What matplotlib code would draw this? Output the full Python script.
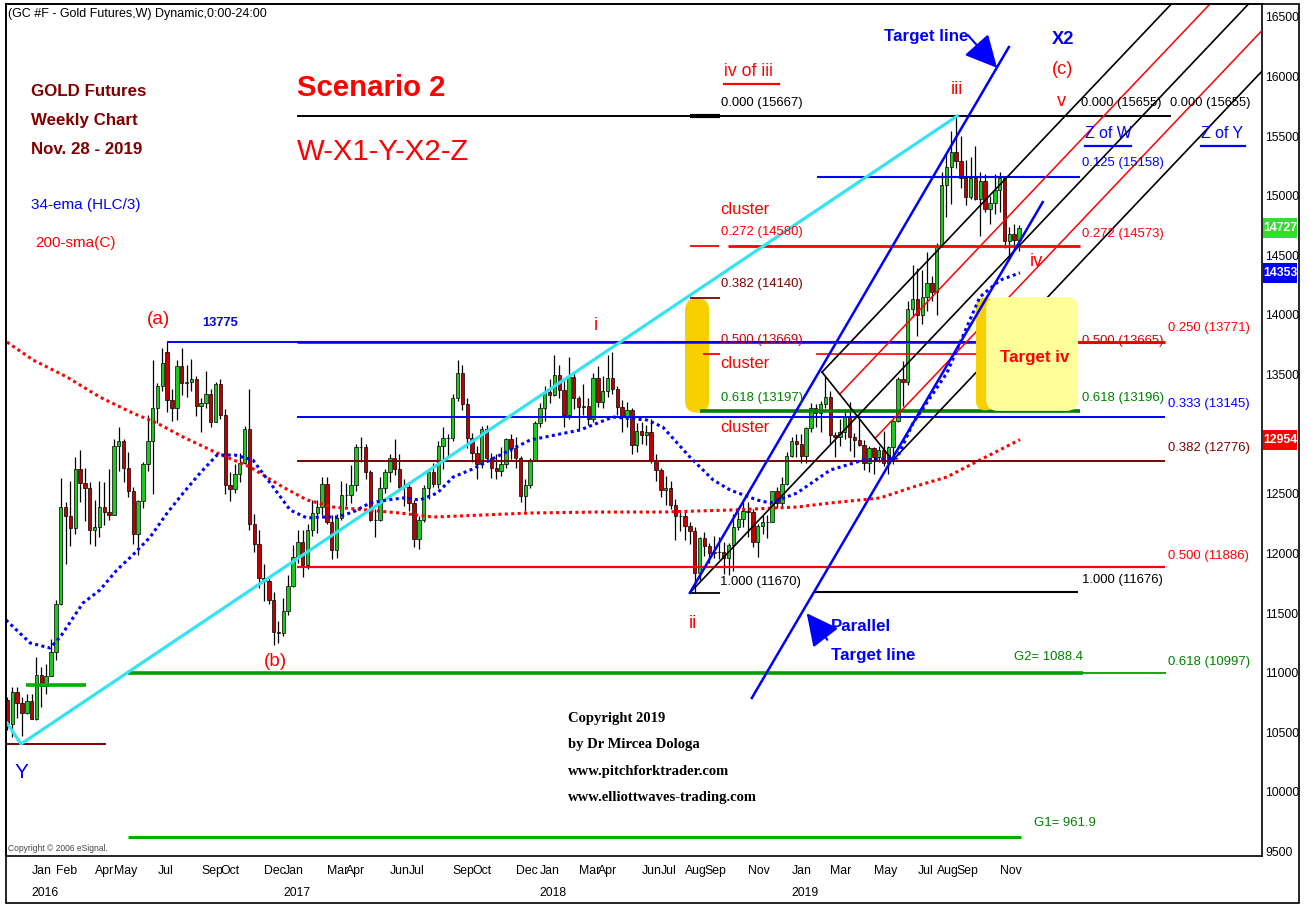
import matplotlib
matplotlib.use("Agg")
import matplotlib.pyplot as plt
import matplotlib.patches as mpatches
import matplotlib.transforms as mtrans
from matplotlib import font_manager
from matplotlib.lines import Line2D
import numpy as np


def pick_font(names, default):
    for f in names:
        try:
            font_manager.findfont(font_manager.FontProperties(family=f), fallback_to_default=False)
            return f
        except ValueError:
            pass
    return default


NARROW = pick_font(['Liberation Sans Narrow', 'Arial Narrow'], 'Liberation Sans')
HAS_NARROW = 'Narrow' in NARROW
FS = 1.0 if HAS_NARROW else 0.88    # annotation texts
FS_AX = 1.0 if HAS_NARROW else 0.84  # axis labels (tighter room)
SERIF = 'Liberation Serif'

# ---------------- weekly candles (price x10, week 0 = Jan 4 2016) ----------------
first_week = -6
opens = [10770, 10570, 10840, 10750, 10660, 10760,
         # 2016
         10610, 10980, 10890, 10970, 11170, 11580, 12390, 12310, 12210, 12710, 12590, 12550, 12200,
         12220, 12390, 12350, 12320, 12900, 12940, 12720, 12520, 12160, 12440, 12750, 12940, 13220,
         13400, 13690, 13290, 13220, 13570, 13430, 13440, 13460, 13240, 13260, 13340, 13100, 13420,
         13160, 12570, 12540, 12670, 12760, 13040, 12250, 12080, 11790, 11770, 11610, 11340, 11330,
         # 2017
         11520, 11730, 11970, 12100, 11900, 12200, 12340, 12390, 12580, 12260, 12030, 12300, 12490,
         12490, 12570, 12890, 12890, 12680, 12280, 12280, 12550, 12680, 12800, 12710, 12560, 12560,
         12420, 12120, 12280, 12550, 12680, 12580, 12900, 12970, 12970, 13300, 13510, 13250, 12970,
         12840, 12750, 13040, 12800, 12720, 12690, 12750, 12960, 12880, 12800, 12480, 12570, 12780,
         # 2018
         13090, 13220, 13350, 13330, 13500, 13370, 13160, 13480, 13300, 13230, 13240, 13130, 13470,
         13270, 13360, 13470, 13380, 13230, 13140, 13200, 12910, 13030, 12990, 13020, 12780, 12700,
         12530, 12550, 12410, 12310, 12310, 12230, 12190, 11840, 12130, 12060, 12000, 12010, 12010,
         11960, 12070, 12220, 12290, 12360, 12350, 12100, 12230, 12260, 12260, 12520, 12420, 12580, 12820,
         # 2019
         12940, 12920, 12820, 13050, 13220, 13180, 13250, 13310, 12990, 12980, 13020, 13150, 12980,
         12950, 12910, 12760, 12880, 12810, 12870, 12760, 12890, 13110, 13460, 13440, 14050, 14130,
         14000, 14150, 14270, 14190, 14570, 15090, 15240, 15370, 15290, 15150, 14990, 15150, 14970,
         15120, 14890, 14940, 15050, 15150, 14620, 14680, 14630]
highs = [10800, 10880, 10880, 10800, 10820, 10820,
         11130, 11050, 11070, 11280, 11610, 12630, 12430, 12610, 12810, 12870, 12720, 12600, 12450,
         12610, 12600, 12710, 12960, 13060, 12960, 12850, 12560, 12450, 12770, 13160, 13620, 13430,
         13720, 13775, 13380, 13620, 13720, 13580, 13630, 13490, 13300, 13530, 13380, 13440, 13460,
         13210, 12680, 12750, 12840, 13070, 13380, 12330, 12200, 11910, 11810, 11680, 11430, 11630,
         11820, 12070, 12200, 12200, 12250, 12450, 12450, 12640, 12640, 12320, 12330, 12610, 12590,
         12740, 12920, 12980, 12920, 12700, 12370, 12640, 12710, 12830, 12960, 12830, 12620, 12600,
         12450, 12310, 12570, 12710, 12760, 12940, 13060, 13000, 13340, 13620, 13580, 13300, 13010,
         12900, 13070, 13080, 12840, 12830, 12890, 12970, 13000, 12980, 12820, 12620, 12800, 13110,
         13260, 13400, 13460, 13660, 13580, 13450, 13650, 13530, 13320, 13420, 13300, 13510, 13570,
         13490, 13660, 13690, 13400, 13290, 13270, 13220, 13090, 13100, 13080, 13130, 12830, 12720,
         12650, 12610, 12460, 12360, 12360, 12260, 12220, 12140, 12180, 12090, 12150, 12140, 12100,
         12090, 12330, 12350, 12430, 12430, 12370, 12250, 12320, 12320, 12520, 12560, 12640, 12850, 12980,
         13000, 13000, 13060, 13260, 13250, 13280, 13490, 13360, 13020, 13130, 13200, 13270, 13010,
         13160, 12950, 12900, 12890, 12900, 13030, 12900, 13120, 13480, 13610, 14120, 14420, 14390,
         14380, 14530, 14330, 14600, 15200, 15350, 15540, 15667, 15500, 15300, 15320, 15420, 15200,
         15180, 15000, 15180, 15200, 15160, 14740, 14760, 14750]
lows = [10520, 10460, 10620, 10470, 10650, 10610,
        10600, 10710, 10820, 10970, 11110, 11570, 11910, 12060, 12160, 12430, 12270, 12080, 12060,
        12140, 12240, 12280, 12320, 12690, 12600, 12470, 12080, 11990, 12380, 12690, 12500, 13090,
        13360, 13190, 13110, 13120, 13330, 13310, 13360, 13150, 13020, 13220, 13060, 13100, 13130,
        12500, 12440, 12510, 12600, 12750, 12200, 12010, 11710, 11600, 11580, 11230, 11250, 11310,
        11480, 11720, 11920, 11800, 11870, 12150, 12170, 12320, 12250, 11950, 11960, 12280, 12400,
        12420, 12520, 12770, 12620, 12270, 12140, 12270, 12510, 12600, 12660, 12520, 12400, 12360,
        12050, 12040, 12260, 12460, 12560, 12550, 12710, 12820, 12940, 13280, 13200, 12880, 12770,
        12620, 12720, 12770, 12630, 12620, 12650, 12720, 12790, 12720, 12430, 12360, 12550, 12780,
        13060, 13110, 13260, 13320, 13300, 13060, 13130, 13210, 13040, 13160, 13080, 13100, 13230,
        13220, 13310, 13340, 13160, 13020, 13060, 12830, 12850, 12920, 12910, 12760, 12610, 12470,
        12410, 12370, 12110, 12190, 12110, 12080, 11670, 11780, 11980, 11920, 11960, 11950, 11830,
        11820, 11850, 12200, 12220, 12140, 12050, 11970, 12160, 12130, 12260, 12380, 12400, 12570, 12810,
        12810, 12760, 12760, 13020, 13060, 13020, 13220, 12920, 12810, 12900, 12960, 12860, 12810,
        12900, 12700, 12680, 12670, 12770, 12730, 12670, 12750, 13100, 13240, 13410, 13980, 13820,
        13920, 14030, 14120, 14000, 14570, 14820, 14930, 15230, 15060, 14920, 14970, 14960, 14660,
        14860, 14760, 14850, 14860, 14560, 14460, 14550, 14540]
closes = [10570, 10840, 10750, 10660, 10760, 10610,
          10980, 10890, 10970, 11170, 11580, 12390, 12310, 12210, 12710, 12590, 12550, 12200, 12220,
          12390, 12350, 12320, 12900, 12940, 12720, 12520, 12160, 12440, 12750, 12940, 13220, 13400,
          13600, 13290, 13220, 13570, 13430, 13440, 13460, 13240, 13260, 13340, 13100, 13420, 13160,
          12570, 12540, 12670, 12760, 13040, 12250, 12080, 11790, 11770, 11610, 11340, 11330, 11520,
          11730, 11970, 12100, 11900, 12200, 12340, 12390, 12580, 12260, 12030, 12300, 12490, 12490,
          12570, 12890, 12890, 12680, 12280, 12280, 12550, 12680, 12800, 12710, 12560, 12560, 12420,
          12120, 12280, 12550, 12680, 12580, 12900, 12970, 12970, 13300, 13510, 13250, 12970, 12840,
          12750, 13040, 12800, 12720, 12690, 12750, 12960, 12880, 12800, 12480, 12570, 12780, 13090,
          13220, 13350, 13330, 13500, 13370, 13160, 13480, 13300, 13230, 13240, 13130, 13470, 13270,
          13360, 13470, 13380, 13230, 13140, 13200, 12910, 13030, 12990, 13020, 12780, 12700, 12530,
          12550, 12410, 12310, 12310, 12230, 12190, 11840, 12130, 12060, 12000, 12010, 12010, 11960,
          12070, 12220, 12290, 12360, 12350, 12100, 12230, 12260, 12260, 12520, 12420, 12580, 12820, 12940,
          12920, 12820, 13050, 13220, 13180, 13250, 13310, 12990, 12980, 13020, 13150, 12980, 12950,
          12910, 12760, 12880, 12810, 12870, 12760, 12890, 13110, 13460, 13440, 14050, 14130, 14000,
          14150, 14270, 14190, 14570, 15090, 15240, 15370, 15290, 15150, 14990, 15150, 14970, 15120,
          14890, 14940, 15050, 15150, 14620, 14680, 14630, 14727]
assert len(opens) == len(highs) == len(lows) == len(closes)

# indicators (week, price)
ema_weeks = [-6.3, -1.3, 2.8, 4.9, 9.6, 13.1, 16.6, 19.9, 23.5, 27.0, 30.3, 33.8, 37.3, 41.0, 44.7, 48.9,
             52.4, 55.9, 58.6, 62.1, 65.4, 68.9, 72.4, 75.7, 79.2, 82.8, 86.1, 89.6, 95.8, 102.0, 112.3,
             119.1, 126.1, 129.4, 135.0, 139.8, 143.3, 148.9, 151.6, 157.1, 164.0, 170.8, 177.8, 181.1,
             188.1, 194.9, 199.1, 203.2]
ema_vals = [11442, 11249, 11207, 11299, 11584, 11693, 11861, 11987, 12138, 12339, 12506, 12674, 12825,
            12825, 12783, 12557, 12364, 12297, 12305, 12305, 12347, 12423, 12448, 12465, 12448, 12506,
            12641, 12699, 12825, 12951, 13035, 13144, 13119, 13060, 12808, 12616, 12532, 12448, 12423,
            12506, 12699, 12783, 12800, 13093, 13513, 14150, 14292, 14353]
sma_weeks = [-6.1, -0.7, 6.3, 13.1, 19.9, 24.9, 30.3, 37.3, 44.1, 50.9, 55.9, 61.3, 68.3, 75.1, 81.9,
             102.0, 115.8, 129.4, 143.3, 157.1, 164.0, 174.3, 181.1, 188.1, 194.9, 203.2]
sma_vals = [13772, 13622, 13479, 13311, 13177, 13093, 12976, 12842, 12725, 12557, 12448, 12389, 12364,
            12339, 12305, 12339, 12347, 12347, 12364, 12389, 12423, 12465, 12557, 12641, 12783, 12954]

# x axis labels: week that holds the 1st of the month
month_names = ['Jan', 'Feb', 'Apr', 'May', 'Jul', 'Sep', 'Oct', 'Dec', 'Jan', 'Mar', 'Apr', 'Jun', 'Jul',
               'Sep', 'Oct', 'Dec', 'Jan', 'Mar', 'Apr', 'Jun', 'Jul', 'Aug', 'Sep', 'Nov', 'Jan', 'Mar',
               'May', 'Jul', 'Aug', 'Sep', 'Nov']
month_weeks = [-1, 4, 12, 16, 25, 34, 38, 47, 51, 60, 64, 73, 77, 86, 90, 99, 104, 112, 116, 125, 129,
               134, 138, 147, 156, 164, 173, 182, 186, 190, 199]
year_names = ['2016', '2017', '2018', '2019']
year_weeks = [-1, 51, 104, 156]

# last values shown on the price scale
last_marks = [14727, 14353, 12954]
mark_colors = ['#33dd33', '#0000ff', '#ff0000']

# ---------------- figure ----------------
W, H = 1308, 905
fig = plt.figure(figsize=(W / 100, H / 100), dpi=100)
ax = fig.add_axes([6 / W, 49 / H, 1256 / W, 852 / H])
ax.set_xlim(-6.3, 253.2)
ax.set_ylim(9463, 16607)
ax.set_xticks([])
yt = np.arange(9500, 16501, 500)
ax.set_yticks(yt)
# 13000 sits under the 12954 marker on the original
ax.set_yticklabels(['' if v == 13000 else str(v) for v in yt])
ax.yaxis.tick_right()
ax.tick_params(axis='y', length=0, pad=2.5, labelsize=10.5 * FS_AX)
for lab in ax.get_yticklabels():
    lab.set_family(NARROW)
for sp in ax.spines.values():
    sp.set_linewidth(1.2)

weeks = np.arange(first_week, first_week + len(closes))
o = np.array(opens); c = np.array(closes)
body_col = np.where(c >= o, '#1ec81e', '#c00000')
ax.vlines(weeks, lows, highs, color='black', lw=0.9, zorder=2)
ax.bar(weeks, c - o, bottom=o, width=0.7, color=body_col, edgecolor='black', linewidth=0.5, zorder=2.1)

ax.plot(ema_weeks, ema_vals, color='blue', lw=2.2, ls=(0, (1, 1.1)), zorder=3.6)
ax.plot(sma_weeks, sma_vals, color='red', lw=2.2, ls=(0, (1, 1.1)), zorder=2.5)


def hline(p, w0, w1, color, lw, z=3):
    ax.plot([w0, w1], [p, p], color=color, lw=lw, solid_capstyle='butt', zorder=z)


hline(15667, 53.8, 234.4, 'black', 1.4)
hline(15667, 135.0, 141.2, 'black', 3)
hline(15158, 161.3, 215.6, 'blue', 1.5)
hline(14580, 135.0, 141.0, 'red', 1.3)
hline(14576, 142.9, 215.6, 'red', 2)
hline(14140, 135.0, 141.2, '#800000', 1.3)
hline(13771, 53.8, 233.2, 'red', 2.2)
hline(13775, 27.0, 199.1, 'blue', 1.4)
hline(13669, 137.7, 141.2, 'red', 1.3)
hline(13669, 161.1, 215.2, 'red', 1.2)
hline(13197, 137.1, 215.6, '#008000', 2.6)
hline(13145, 53.8, 233.2, 'blue', 1.4)
hline(12776, 53.8, 233.2, '#800000', 1.4)
hline(11886, 53.8, 233.2, 'red', 1.6)
hline(11670, 135.0, 141.2, 'black', 1.3)
hline(11676, 160.9, 215.2, 'black', 1.5)
hline(10997, 18.9, 216.2, '#00a000', 2.6)
hline(10997, 216.2, 233.4, '#00a000', 1.3)
hline(10400, -6.3, 14.4, '#800000', 1.4)
hline(10900, -2.2, 10.2, '#00b000', 2.6)
hline(9619, 18.9, 203.4, '#00b000', 2.2)

# cyan trend line Y -> iii
ax.plot([-6.1, -3.2, 190.2], [10578, 10402, 15667], color='#33e3f0', lw=2.3, zorder=3)

# pitchfork from ii, A, B
P0 = np.array([135.0, 11670]); A = np.array([162.3, 13520]); B = np.array([176.9, 12780])
M = (A + B) / 2
d = M - P0
for start, col, lw in [(P0, 'black', 1.2), (A, 'black', 1.2), (B, 'black', 1.2),
                       ((A + M) / 2, 'red', 1.1), ((M + B) / 2, 'red', 1.1)]:
    end = start + d * 4
    ax.plot([start[0], end[0]], [start[1], end[1]], color=col, lw=lw, zorder=3)
ax.plot([A[0], B[0]], [A[1], B[1]], color='black', lw=1.2, zorder=3)

# blue target lines
ax.plot([135.0, 200.9], [11670, 16246], color='blue', lw=1.8, zorder=3.6)
ax.plot([147.8, 207.9], [10788, 14946], color='blue', lw=1.8, zorder=3.6)

# yellow zones
asp = 8.384 * 4.84
ax.add_patch(mpatches.FancyBboxPatch((134.0, 13180), 5.0, 960, boxstyle='round,pad=0,rounding_size=2.5',
                                     mutation_aspect=asp, fc='#f8d000', ec='none', zorder=1.5))
ax.add_patch(mpatches.FancyBboxPatch((194.1, 13200), 3.9, 945, boxstyle='round,pad=0,rounding_size=1.95',
                                     mutation_aspect=asp, fc='#f8d000', ec='none', zorder=3.4))
ax.add_patch(mpatches.FancyBboxPatch((196.2, 13195), 19.0, 955, boxstyle='round,pad=0,rounding_size=2.4',
                                     mutation_aspect=asp, fc='#ffff99', ec='none', zorder=3.5))

# price scale markers
tr = mtrans.blended_transform_factory(ax.transAxes, ax.transData)
for val, col in zip(last_marks, mark_colors):
    ax.add_patch(mpatches.Rectangle((1.0008, val - 84), 0.0271, 168, transform=tr, fc=col, ec='none',
                                    clip_on=False, zorder=6))
    ax.text(1.0143, val, str(val), transform=tr, ha='center', va='center', color='white',
            fontsize=10.5 * FS_AX, fontweight='bold', family=NARROW, clip_on=False, zorder=7)

# date labels
tx = mtrans.blended_transform_factory(ax.transData, fig.transFigure)
for name, w in zip(month_names, month_weeks):
    ax.text(w, 1 - 871 / H, name, transform=tx, ha='left', va='center', fontsize=10.5 * FS_AX,
            family=NARROW, clip_on=False)
for name, w in zip(year_names, year_weeks):
    ax.text(w, 1 - 893 / H, name, transform=tx, ha='left', va='center', fontsize=10.5 * FS_AX,
            family=NARROW, clip_on=False)


def ptxt(x, y, s, size, color='black', weight='normal', ha='left', family=None):
    fig.text(x / W, 1 - y / H, s, fontsize=size * (FS if family is None else 1), color=color,
             fontweight=weight, family=family or NARROW, ha=ha, va='center', zorder=5)


def uline(x0, x1, y, color):
    fig.add_artist(Line2D([x0 / W, x1 / W], [1 - y / H, 1 - y / H], color=color, lw=1.6))


ptxt(8, 14, '(GC #F - Gold Futures,W) Dynamic,0:00-24:00', 10.2)
ptxt(31, 92, 'GOLD Futures', 13.8, '#800000', 'bold')
ptxt(31, 121, 'Weekly Chart', 13.8, '#800000', 'bold')
ptxt(31, 150, 'Nov. 28 - 2019', 13.8, '#800000', 'bold')
ptxt(31, 205, '34-ema (HLC/3)', 12.5, 'blue')
ptxt(35, 243, '200-sma(C)', 12.5, 'red')
ptxt(297, 88, 'Scenario 2', 24, 'red', 'bold')
ptxt(297, 152, 'W-X1-Y-X2-Z', 24, 'red')

ptxt(724, 72, 'iv of iii', 14.5, 'red'); uline(724, 779, 84, 'red')
ptxt(721, 103, '0.000 (15667)', 10.7)
ptxt(720, 210, 'cluster', 13.6, 'red')
ptxt(721, 232, '0.272 (14580)', 10.7, 'red')
ptxt(721, 284, '0.382 (14140)', 10.7, '#800000')
ptxt(721, 340, '0.500 (13669)', 10.7, '#cc0000')
ptxt(720, 364, 'cluster', 13.6, 'red')
ptxt(721, 398, '0.618 (13197)', 10.7, '#008000')
ptxt(720, 427, 'cluster', 13.6, 'red')
ptxt(720, 582, '1.000 (11670)', 10.7)
ptxt(693, 623, 'ii', 15, 'red', ha='center')
ptxt(596, 326, 'i', 15, 'red', ha='center')
ptxt(957, 90, 'iii', 15, 'red', ha='center')
ptxt(1036, 262, 'iv', 15, 'red', ha='center')
ptxt(1062, 101, 'v', 15, 'red', ha='center')
ptxt(1063, 70, '(c)', 15, 'red', ha='center')
ptxt(1063, 39, 'X2', 15, 'blue', 'bold', ha='center')
ptxt(884, 36, 'Target line', 13.8, 'blue', 'bold')
ptxt(1081, 103, '0.000 (15655)', 10.5)
ptxt(1170, 103, '0.000 (15655)', 10.5)
ptxt(1085, 133, 'Z of W', 13, 'blue'); uline(1085, 1131, 146, 'blue')
ptxt(1201, 133, 'Z of Y', 13, 'blue'); uline(1201, 1245, 146, 'blue')
ptxt(1082, 163, '0.125 (15158)', 10.7, 'blue')
ptxt(1082, 234, '0.272 (14573)', 10.7, 'red')
ptxt(1082, 341, '0.500 (13665)', 10.7, '#cc0000')
ptxt(1168, 328, '0.250 (13771)', 10.7, 'red')
ptxt(1000, 357, 'Target iv', 13.8, 'red', 'bold')
ptxt(1082, 398, '0.618 (13196)', 10.7, '#008000')
ptxt(1168, 404, '0.333 (13145)', 10.7, 'blue')
ptxt(1168, 448, '0.382 (12776)', 10.7, '#800000')
ptxt(1168, 556, '0.500 (11886)', 10.7, 'red')
ptxt(1082, 580, '1.000 (11676)', 10.7)
ptxt(831, 626, 'Parallel', 13.8, 'blue', 'bold')
ptxt(831, 655, 'Target line', 13.8, 'blue', 'bold')
ptxt(1014, 657, 'G2= 1088.4', 10.7, '#008000')
ptxt(1168, 662, '0.618 (10997)', 10.7, '#008000')
ptxt(1034, 823, 'G1= 961.9', 10.7, '#008000')
ptxt(159, 320, '(a)', 15.5, 'red', ha='center')
ptxt(202, 323, '13775', 10.5, 'blue', 'bold')
ptxt(275, 662, '(b)', 15.5, 'red', ha='center')
ptxt(21, 772, 'Y', 17, 'blue', ha='center')
for i, line in enumerate(['Copyright 2019', 'by Dr Mircea Dologa', 'www.pitchforktrader.com',
                          'www.elliottwaves-trading.com']):
    ptxt(568, 718 + 26.5 * i, line, 10.5, 'black', 'bold', family=SERIF)
ptxt(8, 848, 'Copyright \u00a9 2006 eSignal.', 7, '#444444')

# arrows
head = mpatches.ArrowStyle('-|>', head_length=0.8, head_width=0.4)
fig.add_artist(mpatches.FancyArrowPatch((966 / W, 1 - 33 / H), (999 / W, 1 - 70 / H), transform=fig.transFigure,
                                        arrowstyle=head, mutation_scale=25, color='blue', lw=1.5))
fig.add_artist(mpatches.FancyArrowPatch((829 / W, 1 - 642 / H), (805 / W, 1 - 611 / H), transform=fig.transFigure,
                                        arrowstyle=head, mutation_scale=25, color='blue', lw=1.5))

# outer frame
fig.add_artist(mpatches.Rectangle((6 / W, 1 - 903 / H), 1293 / W, 899 / H, transform=fig.transFigure,
                                  fill=False, ec='black', lw=1.2))

fig.savefig('out.png', dpi=100)
